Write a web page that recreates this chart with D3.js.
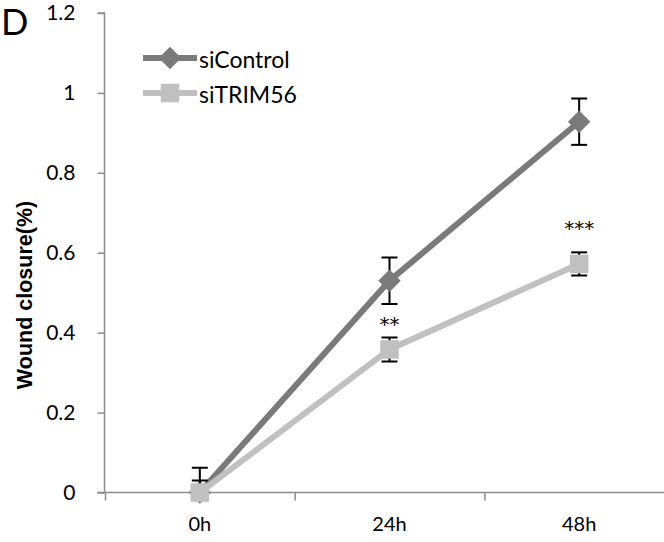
<!DOCTYPE html>
<html><head><meta charset="utf-8">
<script src="https://cdn.jsdelivr.net/npm/d3@7/dist/d3.min.js"></script>
<style>body{margin:0;background:#fff}svg{display:block}</style>
</head><body><svg id="c" width="664" height="542"></svg>
<script>
const categories = ["0h", "24h", "48h"];
const controlValues = [0, 0.53, 0.928];
const controlErrors = [0.062, 0.058, 0.058];
const trimValues = [0, 0.358, 0.572];
const trimErrors = [0.03, 0.03, 0.029];
const yTicks = [0, 0.2, 0.4, 0.6, 0.8, 1, 1.2];
const significance = ["", "**", "***"];
const significanceAt = [null, 0.432, 0.672];
const seriesNames = ["siControl", "siTRIM56"];

const svg = d3.select("#c");
const W = 664, H = 542;
const x = d3.scaleBand().domain(categories).range([105, 674]);
const y = d3.scaleLinear().domain([0, 1.2]).range([492.5, 13]);
const font = "Lato, 'Open Sans', sans-serif";

svg.append("defs").append("clipPath").attr("id","plot")
  .append("rect").attr("x",105).attr("y",0).attr("width",W-105).attr("height",492.5);

// Y axis
const yAxis = svg.append("g").attr("transform","translate(104.5,0)")
  .call(d3.axisLeft(y).tickValues(yTicks).tickSize(7).tickPadding(22)
    .tickFormat(d => d3.format("~g")(d)));
yAxis.select(".domain").attr("stroke","#8c8c8c").attr("stroke-width",1.5).attr("d", `M-7,${y(1.2)}H0V${y(0)}`);
yAxis.selectAll(".tick line").attr("stroke","#8c8c8c").attr("stroke-width",1.5);
yAxis.selectAll(".tick text").attr("font-family",font).attr("font-size",21).attr("fill","#000");

// X axis
const xAxis = svg.append("g").attr("transform",`translate(0,${y(0)})`)
  .call(d3.axisBottom(x).tickSize(0).tickPadding(24));
xAxis.select(".domain").attr("stroke","#8c8c8c").attr("stroke-width",1.5).attr("d", `M97,0H${W}`);
xAxis.selectAll(".tick text").attr("font-family",font).attr("font-size",20).attr("fill","#000");
const bounds = categories.map(c => x(c));
svg.append("g").selectAll("line").data(bounds).join("line")
  .attr("x1", d => d + 0.5).attr("x2", d => d + 0.5)
  .attr("y1", y(0)).attr("y2", y(0) + 8)
  .attr("stroke","#8c8c8c").attr("stroke-width",1.5);

// Y title
svg.append("text").attr("transform","translate(25,295) rotate(-90)")
  .attr("text-anchor","middle").attr("dominant-baseline","central")
  .attr("font-family","'Liberation Sans', Arial, sans-serif").attr("font-weight","bold")
  .attr("font-size",21.5).text("Wound closure(%)");

// Panel label
svg.append("text").attr("x",1).attr("y",35).attr("font-family",font)
  .attr("font-size",36).text("D");

const cx = c => x(c) + x.bandwidth()/2;
const series = [
  {name: seriesNames[0], vals: controlValues, errs: controlErrors, color: "#7a7a7a", shape: d3.symbolDiamond2},
  {name: seriesNames[1], vals: trimValues, errs: trimErrors, color: "#c0c0c0", shape: d3.symbolSquare2}
];
const symSize = s => s.shape === d3.symbolSquare2 ? 440 : 320;

const line = d3.line().x((d,i) => cx(categories[i])).y(d => y(d));
series.forEach(s => {
  svg.append("path").datum(s.vals).attr("d", line).attr("fill","none")
    .attr("stroke", s.color).attr("stroke-width", 6);
  const eg = svg.append("g").attr("clip-path","url(#plot)");
  eg.selectAll("line").data(s.vals).join("line")
    .attr("x1",(d,i)=>cx(categories[i])).attr("x2",(d,i)=>cx(categories[i]))
    .attr("y1",(d,i)=>y(d + s.errs[i])).attr("y2",(d,i)=>y(d - s.errs[i]))
    .attr("stroke","#000").attr("stroke-width",2);
  svg.append("g").selectAll("path").data(s.vals).join("path")
    .attr("transform",(d,i)=>`translate(${cx(categories[i])},${y(d)})`)
    .attr("d", d3.symbol(s.shape, symSize(s))())
    .attr("fill", s.color);
  const cg = svg.append("g").attr("clip-path","url(#plot)");
  const caps = [];
  s.vals.forEach((d,i) => { caps.push({i, v: d + s.errs[i]}); caps.push({i, v: d - s.errs[i]}); });
  cg.selectAll("line").data(caps).join("line")
    .attr("x1", d => cx(categories[d.i]) - 8).attr("x2", d => cx(categories[d.i]) + 8)
    .attr("y1", d => y(d.v)).attr("y2", d => y(d.v))
    .attr("stroke","#000").attr("stroke-width",2);
});

// significance asterisks
svg.append("g").selectAll("text").data(significance.map((t,i)=>({t, v: significanceAt[i], c: categories[i]})).filter(d => d.t))
  .join("text")
  .attr("x", d => cx(d.c))
  .attr("y", d => y(d.v) + 11)
  .attr("text-anchor","middle").attr("font-family","'DejaVu Sans', sans-serif")
  .attr("font-size",20).text(d => d.t);

// legend
const legY = [58, 93];
series.forEach((s,k) => {
  const g = svg.append("g").attr("transform",`translate(0,${legY[k]})`);
  g.append("line").attr("x1",143).attr("x2",197).attr("stroke",s.color).attr("stroke-width",6);
  g.append("path").attr("transform","translate(170,0)")
    .attr("d", d3.symbol(s.shape, symSize(s))()).attr("fill", s.color);
  g.append("text").attr("x",199).attr("y",1).attr("dominant-baseline","central")
    .attr("font-family",font).attr("font-size",23).text(s.name);
});
</script></body></html>
